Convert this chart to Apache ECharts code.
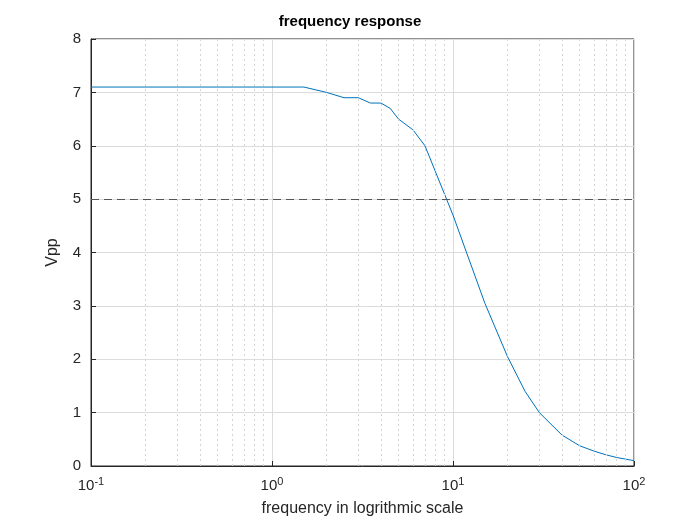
<!DOCTYPE html>
<html><head><meta charset="utf-8">
<script src="https://cdn.jsdelivr.net/npm/echarts@6/dist/echarts.min.js"></script>
<style>html,body{margin:0;background:#fff}#c{width:700px;height:525px}</style>
</head><body><div id="c"></div>
<script>
var freq = [0.1, 1.5, 2, 2.5, 3, 3.5, 4, 4.5, 5, 6, 7, 10, 15, 20, 25, 30, 40, 50, 60, 70, 80, 100];
var vpp = [7.1, 7.1, 7.0, 6.9, 6.9, 6.8, 6.8, 6.7, 6.5, 6.3, 6.0, 4.7, 3.05, 2.05, 1.4, 1.0, 0.58, 0.38, 0.28, 0.21, 0.16, 0.1];
var refLevel = 5;
var decades = [0.1, 1, 10];
var minorSteps = [2, 3, 4, 5, 6, 7, 8, 9];

var minorGrid = [];
decades.forEach(function (d) {
    minorSteps.forEach(function (m) { minorGrid.push({xAxis: +(d * m).toPrecision(3)}); });
});

var chart = echarts.init(document.getElementById('c'));
var axisCol = '#262626';
chart.setOption({
    animation: false,
    backgroundColor: '#fff',
    title: {text: 'frequency response', left: 'center', top: 9,
        textStyle: {fontFamily: 'Liberation Sans', fontSize: 15, fontWeight: 'bold', color: '#000'}},
    grid: {left: 91, right: 66, top: 39, bottom: 59, show: true, borderColor: axisCol, borderWidth: 1},
    xAxis: {
        type: 'log', logBase: 10, min: 0.1, max: 100,
        name: 'frequency in logrithmic scale', nameLocation: 'middle', nameGap: 35,
        nameTextStyle: {fontFamily: 'Liberation Sans', fontSize: 16, color: axisCol},
        axisLine: {lineStyle: {color: axisCol}},
        axisTick: {inside: true, length: 5, lineStyle: {color: axisCol}},
        splitLine: {show: true, lineStyle: {color: '#dcdcdc'}},
        axisLabel: {
            margin: 10,
            formatter: function (v) {
                var k = Math.round(Math.log10(v));
                return '{b|10}{s|' + k + '}';
            },
            rich: {
                b: {fontFamily: 'Liberation Sans', fontSize: 15, color: axisCol},
                s: {fontFamily: 'Liberation Sans', fontSize: 11, color: axisCol, verticalAlign: 'top', padding: [0, 0, 8, 0]}
            }
        }
    },
    yAxis: {
        type: 'value', min: 0, max: 8, interval: 1,
        name: 'Vpp', nameLocation: 'middle', nameGap: 30,
        nameTextStyle: {fontFamily: 'Liberation Sans', fontSize: 16, color: axisCol},
        axisLine: {show: true, lineStyle: {color: axisCol}},
        axisTick: {show: true, inside: true, length: 5, lineStyle: {color: axisCol}},
        splitLine: {show: true, lineStyle: {color: '#dcdcdc'}},
        axisLabel: {fontFamily: 'Liberation Sans', fontSize: 15, color: axisCol, margin: 10}
    },
    series: [{
        type: 'line',
        data: [],
        markLine: {
            silent: true, symbol: 'none', label: {show: false},
            lineStyle: {color: '#d4d4d4', type: [2, 3], width: 1},
            data: minorGrid
        }
    }, {
        type: 'line',
        data: freq.map(function (f, i) { return [f, vpp[i]]; }),
        showSymbol: false,
        lineStyle: {color: '#0072bd', width: 1},
        markLine: {
            silent: true, symbol: 'none', label: {show: false},
            lineStyle: {color: '#555', type: [8, 5], width: 1},
            data: [{yAxis: refLevel}]
        }
    }]
});
</script></body></html>
